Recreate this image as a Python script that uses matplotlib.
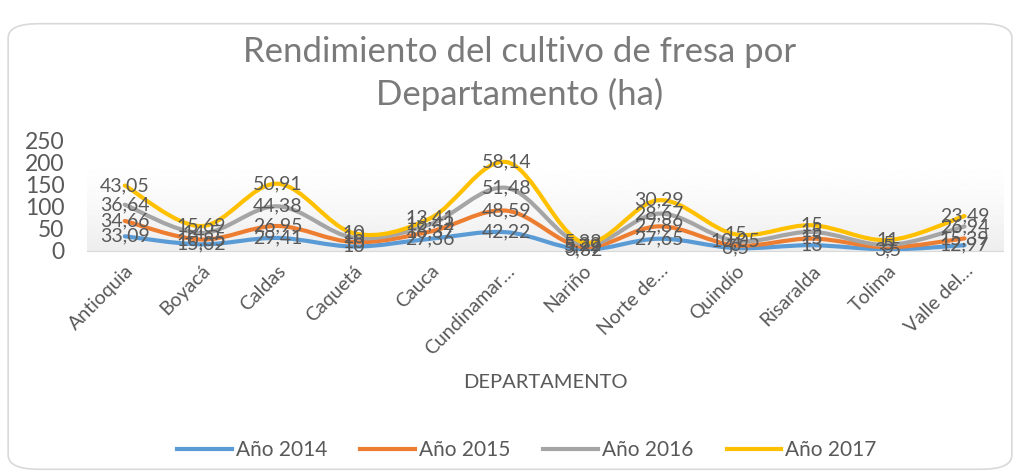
import numpy as np
import matplotlib.pyplot as plt
from matplotlib.path import Path
from matplotlib.patches import PathPatch, FancyBboxPatch
from matplotlib.lines import Line2D
from matplotlib.transforms import ScaledTranslation

plt.rcParams['font.family'] = ['Lato', 'DejaVu Sans']

departamentos = ["Antioquia", "Boyacá", "Caldas", "Caquetá", "Cauca", "Cundinamar…",
                 "Nariño", "Norte de…", "Quindío", "Risaralda", "Tolima", "Valle del…"]
anio_2014 = [33.09, 15.02, 29.41, 10, 27.36, 42.22, 3.32, 27.65, 6.5, 13, 3.5, 12.97]
anio_2015 = [34.66, 10.85, 26.95, 10, 16.37, 48.59, 5.79, 27.89, 6, 15, 5, 15.39]
anio_2016 = [36.64, 14.5, 44.38, 10, 16.42, 51.48, 5.22, 28.67, 10.05, 15, 5, 26.94]
anio_2017 = [43.05, 15.69, 50.91, 10, 13.41, 58.14, 5.33, 30.29, 15, 15, 11, 23.49]
series = ["Año 2014", "Año 2015", "Año 2016", "Año 2017"]
colores = ["#5B9BD5", "#ED7D31", "#A5A5A5", "#FFC000"]
texto = "#595959"


def curva_suave(x, y):
    # bezier tipo Catmull-Rom, parecido al suavizado de Excel
    pts = np.column_stack([x, y])
    verts = [pts[0]]
    codes = [Path.MOVETO]
    n = len(pts)
    for i in range(n - 1):
        p0 = pts[max(i - 1, 0)]
        p1 = pts[i]
        p2 = pts[i + 1]
        p3 = pts[min(i + 2, n - 1)]
        c1 = p1 + (p2 - p0) / 6
        c2 = p2 - (p3 - p1) / 6
        verts += [c1, c2, p2]
        codes += [Path.CURVE4] * 3
    return Path(verts, codes)


fig = plt.figure(figsize=(10.19, 4.74), dpi=100)
fig.patches.append(FancyBboxPatch((0.008, 0.01), 0.985, 0.94, boxstyle="round,pad=0,rounding_size=0.03",
                                  transform=fig.transFigure, fc="white", ec="#d9d9d9", lw=1.2,
                                  zorder=-10))

ax = fig.add_axes([0.085, 0.4705, 0.899, 0.234])
ax.set_facecolor("none")
x = np.arange(len(departamentos))

# fondo degradado del area de trazado
grad = np.linspace(0, 1, 100).reshape(-1, 1)
ax.imshow(1 - 0.07 * grad ** 1.5, cmap="gray", vmin=0, vmax=1, aspect="auto",
          extent=(-0.5, len(departamentos) - 0.5, 0, 215), origin="upper", zorder=0)

acumulado = np.zeros(len(departamentos))
for nombre, valores, color in zip(series, [anio_2014, anio_2015, anio_2016, anio_2017], colores):
    acumulado = acumulado + np.array(valores)
    ax.add_patch(PathPatch(curva_suave(x, acumulado), fc="none", ec=color, lw=3,
                           capstyle="round", zorder=2))
    for xi, yi, v in zip(x, acumulado, valores):
        ax.text(xi, yi, f"{v:g}".replace(".", ","), ha="center", va="center",
                fontsize=14, color=texto, zorder=3)

ax.set_xlim(-0.5, len(departamentos) - 0.5)
ax.set_ylim(0, 250)
ax.set_yticks(range(0, 251, 50))
ax.set_xticks(x)
ax.set_xticklabels(departamentos, rotation=45, ha="right", rotation_mode="anchor",
                   fontsize=14, color=texto)
desplazar = ScaledTranslation(8 / 100, 0, fig.dpi_scale_trans)
for etiqueta in ax.get_xticklabels():
    etiqueta.set_transform(etiqueta.get_transform() + desplazar)
ax.tick_params(axis="y", labelsize=16.5, labelcolor=texto, length=0, pad=16)
ax.tick_params(axis="x", length=0, pad=8)
for s in ["top", "right", "left"]:
    ax.spines[s].set_visible(False)
ax.spines["bottom"].set_color("#d9d9d9")

fig.text(0.51, 0.89, "Rendimiento del cultivo de fresa por", ha="center", va="center",
         fontsize=25, color="#7a7a7a")
fig.text(0.51, 0.80, "Departamento (ha)", ha="center", va="center",
         fontsize=25, color="#7a7a7a")
fig.text(0.535, 0.192, "DEPARTAMENTO", ha="center", va="center", fontsize=14.5, color=texto)

manijas = [Line2D([], [], color=c, lw=3) for c in colores]
fig.legend(manijas, series, loc="center", bbox_to_anchor=(0.517, 0.05), ncol=4, frameon=False,
           fontsize=15, labelcolor=texto, handlelength=2.6, handletextpad=0.2, columnspacing=1.6)

fig.savefig("out.png", dpi=100)
